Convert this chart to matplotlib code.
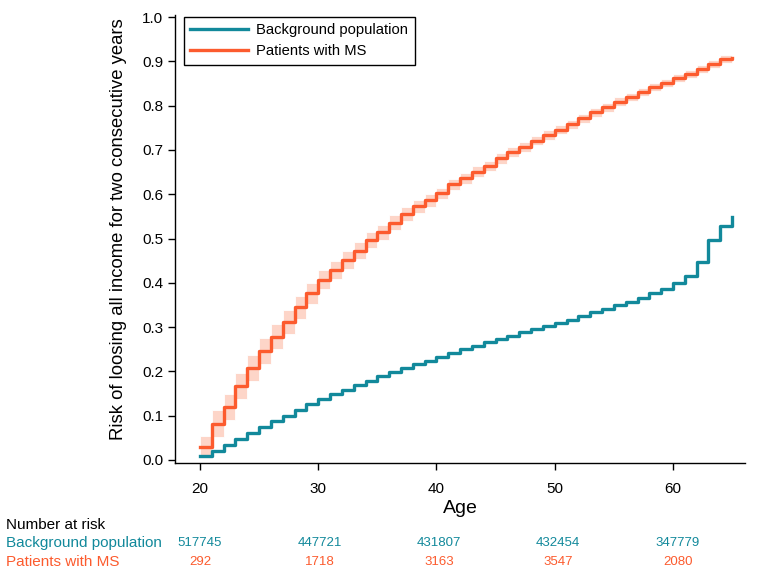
import numpy as np
import matplotlib
matplotlib.use("Agg")
import matplotlib.pyplot as plt
import matplotlib.transforms as mtransforms

plt.rcParams['font.family'] = ['Liberation Sans', 'DejaVu Sans']

# yearly ages, last entry closes the final step
ages = list(range(20, 66))

ms_risk = [0.030, 0.082, 0.120, 0.167, 0.208, 0.246, 0.278, 0.312, 0.345, 0.376,
           0.407, 0.429, 0.451, 0.472, 0.496, 0.514, 0.536, 0.555, 0.573, 0.586,
           0.602, 0.622, 0.636, 0.651, 0.664, 0.681, 0.695, 0.707, 0.721, 0.734,
           0.746, 0.758, 0.771, 0.785, 0.796, 0.809, 0.820, 0.831, 0.841, 0.852,
           0.862, 0.871, 0.882, 0.894, 0.905, 0.908]

bg_risk = [0.009, 0.020, 0.034, 0.047, 0.060, 0.074, 0.087, 0.100, 0.113, 0.126,
           0.137, 0.148, 0.158, 0.169, 0.178, 0.190, 0.199, 0.207, 0.216, 0.224,
           0.232, 0.241, 0.250, 0.258, 0.266, 0.273, 0.281, 0.288, 0.295, 0.302,
           0.309, 0.316, 0.325, 0.333, 0.340, 0.349, 0.357, 0.366, 0.376, 0.387,
           0.399, 0.415, 0.446, 0.497, 0.528, 0.548]

# 95% CI for patients with MS, one value per yearly interval (20..64)
ms_lower = [0.005, 0.052, 0.090, 0.137, 0.178, 0.216, 0.250, 0.285, 0.319, 0.352,
            0.385, 0.408, 0.431, 0.453, 0.478, 0.497, 0.520, 0.540, 0.558, 0.572,
            0.589, 0.610, 0.624, 0.639, 0.652, 0.669, 0.684, 0.696, 0.710, 0.723,
            0.735, 0.748, 0.761, 0.775, 0.786, 0.799, 0.811, 0.822, 0.832, 0.843,
            0.853, 0.862, 0.873, 0.885, 0.896]
ms_upper = [0.055, 0.112, 0.150, 0.197, 0.238, 0.276, 0.306, 0.339, 0.371, 0.400,
            0.429, 0.450, 0.471, 0.491, 0.514, 0.531, 0.552, 0.570, 0.588, 0.600,
            0.615, 0.634, 0.648, 0.663, 0.676, 0.693, 0.706, 0.718, 0.732, 0.745,
            0.757, 0.768, 0.781, 0.795, 0.806, 0.819, 0.829, 0.840, 0.850, 0.861,
            0.871, 0.880, 0.891, 0.903, 0.914]

# number at risk table
risk_ages = [20, 30, 40, 50, 60]
bg_at_risk = ['517745', '447721', '431807', '432454', '347779']
ms_at_risk = ['292', '1718', '3163', '3547', '2080']

TEAL = '#12899b'
ORANGE = '#fc5b2e'
BAND = '#fdd5c8'

fig = plt.figure(figsize=(7.65, 5.76), dpi=100)
ax = fig.add_axes([175 / 765, 1 - 463 / 576, 570 / 765, 448.2 / 576])

# confidence band as one box per interval
lo = np.array(ms_lower)
hi = np.array(ms_upper)
ax.bar(ages[:-1], hi - lo, bottom=lo, width=1, align='edge',
       color=BAND, edgecolor='white', linewidth=0.6, zorder=1)

ax.step(ages, bg_risk, where='post', color=TEAL, lw=2.4,
        label='Background population', zorder=3)
ax.step(ages, ms_risk, where='post', color=ORANGE, lw=2.4,
        label='Patients with MS', zorder=3)

ax.set_xlim(17.886, 66.09)
ax.set_ylim(-0.0068, 1.005)
ax.set_xticks([20, 30, 40, 50, 60])
ax.set_yticks(np.arange(0, 1.01, 0.1))
ax.set_yticklabels([f'{v:.1f}' for v in np.arange(0, 1.01, 0.1)])
ax.tick_params(direction='out', length=5, width=1, labelsize=11, colors='black')
ax.tick_params(axis='x', pad=9)

for side in ['top', 'right']:
    ax.spines[side].set_visible(False)
for side in ['left', 'bottom']:
    ax.spines[side].set_linewidth(1.0)

ax.set_xlabel('Age', fontsize=14, labelpad=2.5)
ax.set_ylabel('Risk of loosing all income for two consecutive years', fontsize=13.3)
ax.yaxis.set_label_coords(-0.0845, 0.522)

leg = ax.legend(loc='upper left', bbox_to_anchor=(0.002, 1.012), fontsize=10.6,
                handlelength=3.9, fancybox=False, framealpha=1, edgecolor='black',
                borderpad=0.45, labelspacing=0.45, handletextpad=0.6)
leg.get_frame().set_linewidth(1.0)

# number at risk below the axes
fig.text(6 / 765, 1 - 525 / 576, 'Number at risk', fontsize=11, va='center', color='black')
fig.text(6 / 765, 1 - 543 / 576, 'Background population', fontsize=11, va='center', color=TEAL)
fig.text(6 / 765, 1 - 562 / 576, 'Patients with MS', fontsize=11, va='center', color=ORANGE)

trans = mtransforms.blended_transform_factory(ax.transData, fig.transFigure)
for a, b, m in zip(risk_ages, bg_at_risk, ms_at_risk):
    ax.text(a + 0.1 * (a - 20) / 10, 1 - 543 / 576, b, transform=trans, ha='center', va='center',
            fontsize=9.5, color=TEAL, clip_on=False)
    ax.text(a + 0.1 * (a - 20) / 10, 1 - 562 / 576, m, transform=trans, ha='center', va='center',
            fontsize=9.5, color=ORANGE, clip_on=False)

fig.savefig('out.png', dpi=100)
